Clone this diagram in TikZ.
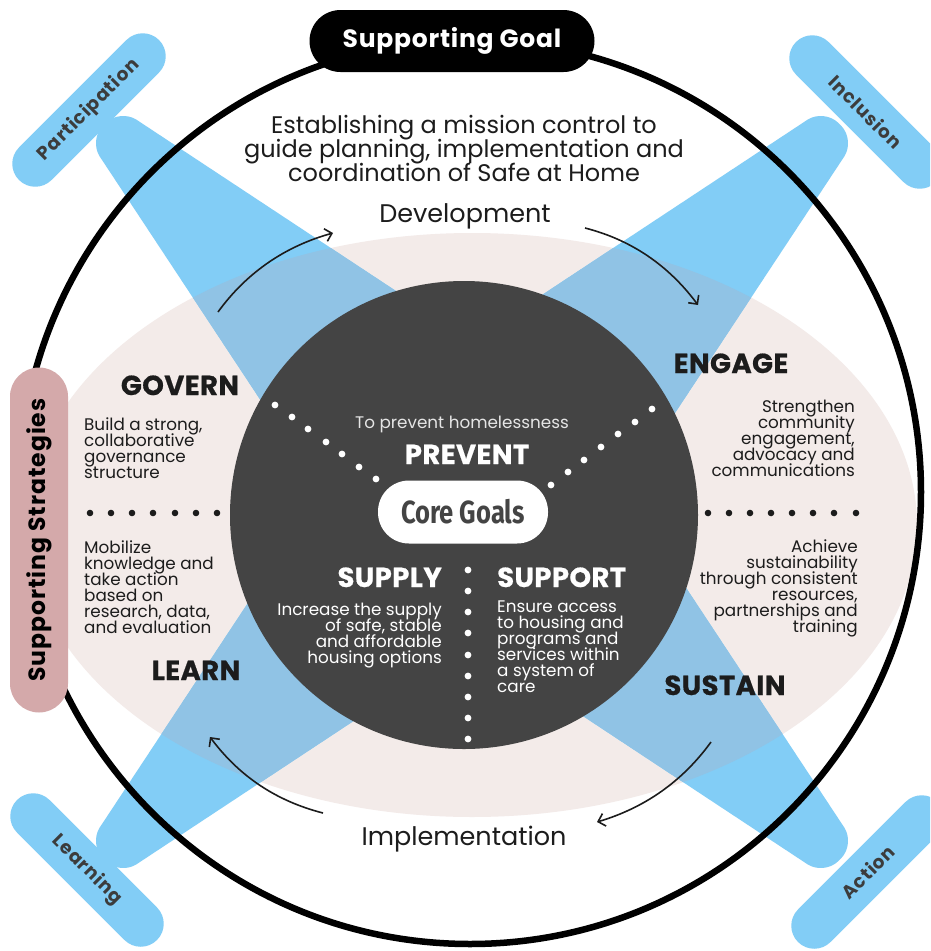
\documentclass[tikz,border=0pt]{standalone}
\usepackage{fontspec}
\setmainfont{Poppins}
\newfontfamily\corefont{Fira Sans}
\usepackage{graphicx}
\usetikzlibrary{calc,arrows.meta}
\definecolor{beige}{HTML}{F3EBE9}
\definecolor{skyb}{HTML}{82CDF6}
\definecolor{skym}{HTML}{90C3E5}
\definecolor{darkc}{HTML}{444444}
\definecolor{rose}{HTML}{D4A9AA}
\definecolor{ink}{HTML}{1C1C1C}
\definecolor{pilltxt}{HTML}{3C3C3C}
\newcommand\beampath[1]{($(C)+(#1:520)+(#1+90:22)$) -- ($(C)+(#1:520)+(#1-90:22)$) -- ($(C)+(#1:100)+(#1-90:108)$) -- ($(C)+(#1:100)+(#1+90:108)$) -- cycle}
\setlength{\lineskiplimit}{-100pt}
\begin{document}
\begin{tikzpicture}[x=1pt,y=-1pt,
  head/.style={font=\fontsize{27.5}{27.5}\selectfont\bfseries\addfontfeatures{LetterSpace=1.5,FakeBold=0.6}, inner sep=0pt},
  body/.style={font=\fontsize{16.8}{15.9}\selectfont, inner sep=0pt},
  flow/.style={font=\fontsize{25.5}{24}\selectfont, text=ink, inner sep=0pt},
  cornerpill/.style={fill=skyb, rounded corners=23pt, minimum width=198pt, minimum height=46pt,
    text=pilltxt, inner sep=0pt, font=\fontsize{18.5}{19}\selectfont\bfseries\addfontfeatures{LetterSpace=5}},
  arr/.style={draw=ink, line width=1.6pt, -{Straight Barb[length=6.5pt,width=13pt]}},
  wdot/.style={fill=white},
  bdot/.style={fill=ink}
]
\clip (0,0) rectangle (930,951);
\fill[white] (0,0) rectangle (930,951);
\coordinate (C) at (472,492);
% beige ellipse
\fill[beige] (472,525) ellipse [x radius=445pt, y radius=292pt];
% beams
\foreach \a in {225,315,135,45}{
  \fill[skyb, rounded corners=20pt] \beampath{\a};
}
\begin{scope}
  \clip (472,525) ellipse [x radius=445pt, y radius=292pt];
  \foreach \a in {225,315,135,45}{
    \fill[skym, rounded corners=20pt] \beampath{\a};
  }
\end{scope}
% dark core circle
\fill[darkc] (464,515) circle [radius=234pt];
% white dots
\foreach \p in {(275,405),(292,417),(308,429),(326,442),(342,454),(359,467),(376,479),
  (652,409),(635,422),(618,434),(601,447),(584,460),(568,472),(551,485),
  (468,570),(468,591),(468,612),(468,633),(468,655),(468,676),(468,697),(468,718),(468,739)}
  \fill[wdot] \p circle [radius=3.4pt];
% black dots
\foreach \x in {90,111,132,153,175,196,217,708,729,750,771,792,813,834,856}
  \fill[bdot] (\x,513) circle [radius=3.3pt];
% outer circle
\draw[line width=6.5pt] (470,492) ellipse [x radius=451pt, y radius=452pt];
% mission text
\node[flow, font=\fontsize{24}{24}\selectfont, anchor=north, align=center] (mission) at (464,115)
  {Establishing a mission control to\\guide planning, implementation and\\coordination of Safe at Home};
\node[flow, anchor=base] (dev) at (465,222) {Development};
\node[flow, anchor=base] (impl) at (464,845) {Implementation};
% arrows
\coordinate (a1s) at (218,312); \coordinate (a1e) at (333,233);
\coordinate (a2s) at (585,228); \coordinate (a2e) at (698,305);
\coordinate (a3s) at (711,742); \coordinate (a3e) at (597,822);
\coordinate (a4s) at (323,813); \coordinate (a4e) at (210,737);
\draw[arr] (a1s) .. controls (247,272) and (286,246) .. (a1e);
\draw[arr] (a2s) .. controls (632,240) and (669,266) .. (a2e);
\draw[arr] (a3s) .. controls (682,782) and (644,808) .. (a3e);
\draw[arr] (a4s) .. controls (276,801) and (239,776) .. (a4e);
% strategy headings
\node[head, text=ink, anchor=base] (govern) at (180,395) {GOVERN};
\node[head, text=ink, anchor=base] (learn) at (196,680) {LEARN};
\node[head, text=ink, anchor=base] (engage) at (731,373) {ENGAGE};
\node[head, text=ink, anchor=base] (sustain) at (725,695) {SUSTAIN};
\node[body, text=ink, anchor=north west, align=left] (govtxt) at (84,418)
  {Build a strong,\\collaborative\\governance\\structure};
\node[body, text=ink, anchor=north west, align=left] (lrntxt) at (84,541)
  {Mobilize\\knowledge and\\take action\\based on\\research, data,\\and evaluation};
\node[body, text=ink, anchor=north east, align=right] (engtxt) at (855,400)
  {Strengthen\\community\\engagement,\\advocacy and\\communications};
\node[body, text=ink, anchor=north east, align=right] (sustxt) at (858,540)
  {Achieve\\sustainability\\through consistent\\resources,\\partnerships and\\training};
% core goals
\node[font=\fontsize{16.8}{16}\selectfont, text=white!90!black, inner sep=0pt, anchor=base] (tp) at (462,428) {To prevent homelessness};
\node[head, text=white, anchor=base] (prevent) at (467,464) {PREVENT};
\node[head, text=white, anchor=base east] (supply) at (442,587) {SUPPLY};
\node[head, text=white, anchor=base west] (support) at (497,587) {SUPPORT};
\node[body, text=white, anchor=north east, align=right] (suptxt) at (442,603)
  {Increase the supply\\of safe, stable\\and affordable\\housing options};
\node[body, text=white, anchor=north west, align=left] (sprtxt) at (497,601)
  {Ensure access\\to housing and\\programs and\\services within\\a system of\\care};
\node[fill=white, rounded corners=31pt, minimum width=170pt, minimum height=63pt, inner sep=0pt, text=darkc] (core) at (463,512)
  {\scalebox{0.8}[1]{\corefont\fontsize{32}{32}\selectfont\bfseries Core Goals}};
% pills
\node[fill=black, rounded corners=31pt, minimum width=285pt, minimum height=62pt, inner sep=0pt, text=white,
  font=\fontsize{25}{25}\selectfont\bfseries\addfontfeatures{LetterSpace=3}] (sgoal) at (452,41) {Supporting Goal};
\node[fill=rose, rounded corners=29pt, minimum width=345pt, minimum height=58pt, inner sep=0pt, rotate=90, text=black,
  font=\fontsize{23.5}{23}\selectfont\bfseries\addfontfeatures{LetterSpace=4}] (sstrat) at (39,540) {Supporting Strategies};
\node[cornerpill, rotate=45] (part) at (89,110) {Participation};
\node[cornerpill, rotate=-45] (incl) at (866,112) {Inclusion};
\node[cornerpill, rotate=-45] (lrng) at (87,870) {Learning};
\node[cornerpill, rotate=45] (act) at (868,872) {Action};
\end{tikzpicture}
\end{document}
